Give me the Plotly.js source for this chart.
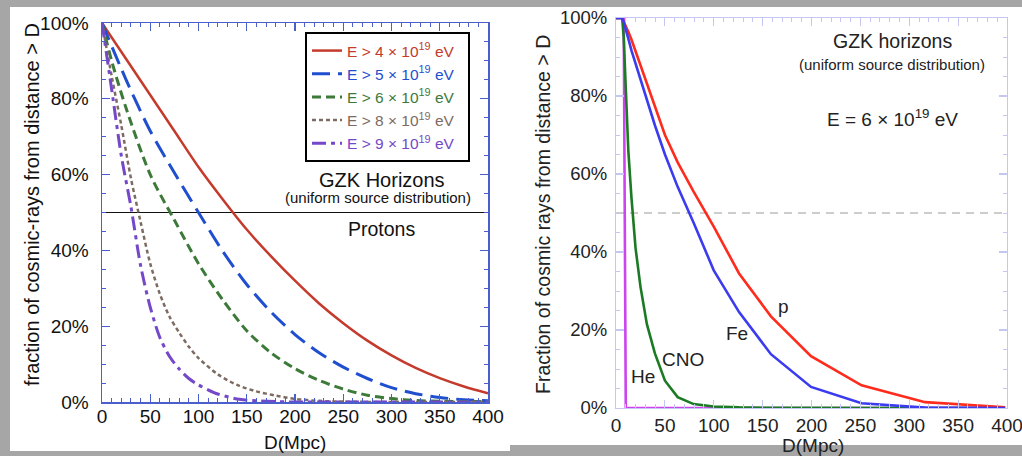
<!DOCTYPE html>
<html>
<head>
<meta charset="utf-8">
<script src="https://cdn.plot.ly/plotly-3.0.1.min.js"></script>
<style>html,body{margin:0;padding:0;background:#a6a6a6;}#chart{width:1022px;height:456px;}</style>
</head>
<body>
<div id="chart"></div>
<script>
// ---------- Left panel: protons, different energy thresholds ----------
const leftLabels = ['E > 4 × 10<sup>19</sup> eV', 'E > 5 × 10<sup>19</sup> eV', 'E > 6 × 10<sup>19</sup> eV', 'E > 8 × 10<sup>19</sup> eV', 'E > 9 × 10<sup>19</sup> eV'];
const dGrid25 = [0, 25, 50, 75, 100, 125, 150, 175, 200, 225, 250, 275, 300, 325, 350, 375, 400];
const fE4 = [100, 90.5, 81, 71.5, 62, 53.5, 45.5, 38.5, 32, 26, 20.8, 16.2, 12.3, 9, 6.3, 4.1, 2.3];
const fE5 = [100, 85, 71.5, 60.5, 50, 39.8, 31, 23.8, 17.8, 13, 9.2, 6.2, 3.8, 2.2, 1.2, 0.6, 0.3];
const dE6 = [0, 10, 25, 50, 75, 100, 125, 150, 175, 200, 225, 250, 275, 300, 325, 350, 400];
const fE6 = [100, 90, 77.5, 60, 48, 36.5, 27, 18.8, 13, 8.8, 5.7, 3.4, 1.8, 0.9, 0.4, 0.2, 0.1];
const dE8 = [0, 10, 20, 30, 40, 50, 60, 70, 80, 90, 100, 120, 140, 160, 180, 200, 225, 250, 300, 400];
const fE8 = [100, 86, 73, 59, 47.5, 36.5, 28.5, 22.5, 18.3, 14.6, 11.6, 7.3, 4.5, 2.8, 1.7, 0.8, 0.3, 0.1, 0, 0];
const dE9 = [0, 10, 20, 30, 40, 50, 60, 70, 80, 90, 100, 110, 120, 140, 160, 180, 200, 400];
const fE9 = [100, 82.5, 65, 51.5, 36, 25, 17, 12, 8.7, 6.2, 4.5, 3.2, 2.1, 0.8, 0.3, 0.1, 0, 0];

// ---------- Right panel: nuclei at E = 6e19 eV ----------
const dNuc = [0, 6.3, 7.9, 10, 12.6, 15.8, 20, 25.1, 31.6, 39.8, 50.1, 63.1, 79.4, 100, 125.9, 158.5, 199.5, 251.2, 316.2, 398.1];
const fP   = [100, 100, 99, 98, 96.5, 94.5, 91.5, 88, 83.5, 77.5, 70, 63, 55.5, 46.5, 34.5, 23.5, 13.3, 5.8, 1.5, 0.2];
const fFe  = [100, 100, 99, 97.3, 94.7, 91.7, 88.3, 84, 79, 72.5, 65, 56.7, 47.5, 35.3, 24.6, 13.8, 5.4, 1.2, 0.1, 0];
const fCNO = [100, 100, 95, 80, 66, 54, 41, 31, 21.5, 14, 7, 2.8, 1, 0.4, 0.15, 0.05, 0, 0, 0, 0];
const dHe  = [0, 7.9, 10, 398.1];
const fHe  = [100, 100, 0, 0];
const nucLabels = ['p', 'Fe', 'CNO', 'He'];

const xTicks = [0, 50, 100, 150, 200, 250, 300, 350, 400];
const yTicks = [0, 20, 40, 60, 80, 100];
const yTickText = yTicks.map(v => v + '%');
const HALF = 50;

const W = 1022, H = 456;
const px = v => v / W;
const py = v => 1 - v / H;
const FONT = 'Liberation Sans, Arial, Helvetica, sans-serif';

const leftStyles = [
  {color: '#c43a2c', dash: 'solid', width: 2.5},
  {color: '#1f4fcf', dash: '18px,8px', width: 3},
  {color: '#3d7a3a', dash: '9px,5px', width: 3},
  {color: '#7d6b62', dash: '4px,3px', width: 2.5},
  {color: '#7448c8', dash: '14px,5px,4px,5px', width: 3}
];
const leftData = [[dGrid25, fE4], [dGrid25, fE5], [dE6, fE6], [dE8, fE8], [dE9, fE9]];

const traces = [];
leftData.forEach((d, i) => {
  const s = leftStyles[i];
  traces.push({
    x: d[0], y: d[1], type: 'scatter', mode: 'lines',
    line: {color: s.color, dash: s.dash, width: s.width, shape: 'spline', smoothing: 0.8},
    name: '<span style="color:' + s.color + '">' + leftLabels[i] + '</span>&nbsp;&nbsp;',
    xaxis: 'x', yaxis: 'y', showlegend: true, hoverinfo: 'skip'
  });
});

const rightSeries = [
  {x: dHe, y: fHe, color: '#cc44ee', name: 'He'},
  {x: dNuc, y: fCNO, color: '#1c7a24', name: 'CNO'},
  {x: dNuc, y: fP, color: '#ff2b1c', name: 'p'},
  {x: dNuc, y: fFe, color: '#3b3bef', name: 'Fe'}
];
rightSeries.forEach(s => {
  traces.push({
    x: s.x, y: s.y, type: 'scatter', mode: 'lines',
    line: {color: s.color, width: 2.6},
    name: s.name, xaxis: 'x2', yaxis: 'y2', showlegend: false, hoverinfo: 'skip'
  });
});

function axisBase(col, lw, tickcol, minorDt) {
  return {
    showline: true, linecolor: col, linewidth: lw, mirror: 'ticks',
    ticks: 'inside', ticklen: 8, tickwidth: 1.2, tickcolor: tickcol,
    showgrid: false, zeroline: false, fixedrange: true, ticklabeloverflow: 'allow',
    minor: {dtick: minorDt, ticks: 'inside', ticklen: 4, tickwidth: 1, tickcolor: tickcol, showgrid: false}
  };
}
const LBLUE = '#4a5fcc', LAV = '#c6c6f2';

const layout = {
  width: W, height: H,
  margin: {l: 0, r: 0, t: 0, b: 0},
  paper_bgcolor: '#a6a6a6',
  plot_bgcolor: 'rgba(0,0,0,0)',
  font: {family: FONT, color: '#111'},
  showlegend: true,
  legend: {
    x: px(305), y: py(32), xanchor: 'left', yanchor: 'top',
    bgcolor: '#ffffff', bordercolor: '#000000', borderwidth: 2,
    font: {family: FONT, size: 15.5}, tracegroupgap: 0, itemwidth: 30
  },
  xaxis: Object.assign(axisBase(LBLUE, 1.5, LBLUE, 10), {
    domain: [px(102), px(488)], anchor: 'y', range: [0, 400],
    tickvals: xTicks, ticklabelstandoff: -3, tickfont: {size: 19, family: FONT, color: '#111'}
  }),
  yaxis: Object.assign(axisBase(LBLUE, 1.5, LBLUE, 5), {
    domain: [py(402), py(23)], anchor: 'x', range: [0, 100],
    tickvals: yTicks, ticktext: yTickText, ticklabelstandoff: 8, tickfont: {size: 19, family: FONT, color: '#111'}
  }),
  xaxis2: Object.assign(axisBase(LAV, 1, LAV, 10), {
    domain: [px(616), px(1007)], anchor: 'y2', range: [0, 400],
    tickvals: xTicks, tickfont: {size: 19, family: FONT, color: '#222'}
  }),
  yaxis2: Object.assign(axisBase(LAV, 1, LAV, 5), {
    domain: [py(408), py(18)], anchor: 'x2', range: [0, 100],
    tickvals: yTicks, ticktext: yTickText, ticklabelstandoff: 4, tickfont: {size: 18.5, family: FONT, color: '#222'}
  }),
  shapes: [
    {type: 'rect', xref: 'paper', yref: 'paper', x0: px(10), x1: px(510), y0: py(451), y1: py(7), fillcolor: '#ffffff', line: {width: 0}, layer: 'below'},
    {type: 'rect', xref: 'paper', yref: 'paper', x0: px(509), x1: px(1022), y0: py(445), y1: py(7), fillcolor: '#ffffff', line: {width: 0}, layer: 'below'},
    {type: 'rect', xref: 'paper', yref: 'paper', x0: px(309), x1: px(468), y0: py(160), y1: py(36), fillcolor: '#000000', line: {width: 0}, layer: 'below'},
    {type: 'line', xref: 'x', yref: 'y', x0: 0, x1: 400, y0: HALF, y1: HALF, line: {color: '#111', width: 1}, layer: 'below'},
    {type: 'line', xref: 'x2', yref: 'y2', x0: 0, x1: 400, y0: HALF, y1: HALF, line: {color: '#9a9a9a', width: 1, dash: '8px,6px'}, layer: 'below'}
  ],
  annotations: [
    {text: 'fraction of cosmic-rays from distance > D', xref: 'paper', yref: 'paper', x: px(32), y: py(205), textangle: -90, showarrow: false, font: {size: 20, family: FONT, color: '#111'}, xanchor: 'center', yanchor: 'middle'},
    {text: 'D(Mpc)', xref: 'paper', yref: 'paper', x: px(295), y: py(442), showarrow: false, font: {size: 19, family: FONT, color: '#111'}, xanchor: 'center', yanchor: 'middle'},
    {text: 'GZK Horizons', xref: 'paper', yref: 'paper', x: px(382), y: py(180), showarrow: false, font: {size: 20, family: FONT, color: '#111'}, xanchor: 'center', yanchor: 'middle'},
    {text: '(uniform source distribution)', xref: 'paper', yref: 'paper', x: px(378), y: py(197), showarrow: false, font: {size: 15, family: FONT, color: '#111'}, xanchor: 'center', yanchor: 'middle'},
    {text: 'Protons', xref: 'paper', yref: 'paper', x: px(381), y: py(229), showarrow: false, font: {size: 19.5, family: FONT, color: '#111'}, xanchor: 'center', yanchor: 'middle'},

    {text: 'Fraction of cosmic rays from distance > D', xref: 'paper', yref: 'paper', x: px(543), y: py(215), textangle: -90, showarrow: false, font: {size: 19.5, family: FONT, color: '#222'}, xanchor: 'center', yanchor: 'middle'},
    {text: 'D(Mpc)', xref: 'paper', yref: 'paper', x: px(813), y: py(445), showarrow: false, font: {size: 19, family: FONT, color: '#222'}, xanchor: 'center', yanchor: 'middle'},
    {text: 'GZK horizons', xref: 'paper', yref: 'paper', x: px(892), y: py(41), showarrow: false, font: {size: 19.5, family: FONT, color: '#222'}, xanchor: 'center', yanchor: 'middle'},
    {text: '(uniform source distribution)', xref: 'paper', yref: 'paper', x: px(892), y: py(64), showarrow: false, font: {size: 15, family: FONT, color: '#222'}, xanchor: 'center', yanchor: 'middle'},
    {text: 'E = 6 × 10<sup>19</sup> eV', xref: 'paper', yref: 'paper', x: px(892), y: py(118), showarrow: false, font: {size: 19, family: FONT, color: '#222'}, xanchor: 'center', yanchor: 'middle'},
    {text: nucLabels[0], xref: 'paper', yref: 'paper', x: px(783), y: py(306), showarrow: false, font: {size: 19, family: FONT, color: '#222'}, xanchor: 'center', yanchor: 'middle'},
    {text: nucLabels[1], xref: 'paper', yref: 'paper', x: px(737), y: py(333), showarrow: false, font: {size: 19, family: FONT, color: '#222'}, xanchor: 'center', yanchor: 'middle'},
    {text: nucLabels[2], xref: 'paper', yref: 'paper', x: px(683), y: py(359), showarrow: false, font: {size: 19, family: FONT, color: '#222'}, xanchor: 'center', yanchor: 'middle'},
    {text: nucLabels[3], xref: 'paper', yref: 'paper', x: px(643), y: py(376), showarrow: false, font: {size: 19, family: FONT, color: '#222'}, xanchor: 'center', yanchor: 'middle'}
  ]
};

Plotly.newPlot('chart', traces, layout, {displayModeBar: false, staticPlot: true});
</script>
</body>
</html>
